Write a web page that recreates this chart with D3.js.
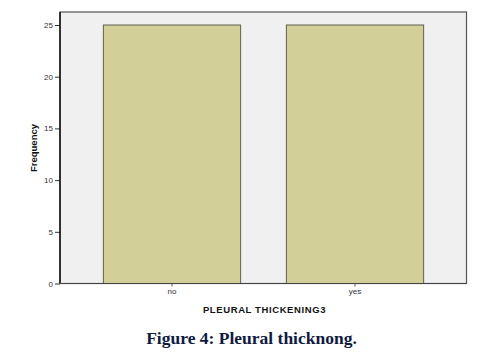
<!DOCTYPE html>
<html>
<head>
<script src="https://d3js.org/d3.v7.min.js"></script>
<style>
  body { margin: 0; background: #fff; }
  .tick text { font-family: "Liberation Sans", Arial, sans-serif; font-size: 8px; fill: #333; }
  .label { font-family: "Liberation Sans", Arial, sans-serif; font-weight: bold; font-size: 9.5px; fill: #111; }
  .caption { font-family: "Liberation Serif", serif; font-weight: bold; font-size: 17.5px; fill: #0f1a40; }
</style>
</head>
<body>
<svg id="chart" width="482" height="355"></svg>
<script>
  const categories = ["no", "yes"];
  const counts = [25, 25];
  const yTicks = [0, 5, 10, 15, 20, 25];

  const frame = { left: 60, top: 12, right: 466.5, bottom: 283.5 };
  const svg = d3.select("#chart");

  const x = d3.scaleBand().domain(categories).range([80.5, 446.5]).paddingInner(0.25).paddingOuter(0.125);
  const y = d3.scaleLinear().domain([0, 25]).range([frame.bottom, 25]);

  // plot background
  svg.append("rect")
    .attr("x", frame.left).attr("y", frame.top)
    .attr("width", frame.right - frame.left).attr("height", frame.bottom - frame.top)
    .attr("fill", "#f0f0f0").attr("stroke", "#555").attr("stroke-width", 1.2);

  svg.selectAll(".bar")
    .data(counts)
    .enter()
    .append("rect")
    .attr("class", "bar")
    .attr("x", (d, i) => x(categories[i]))
    .attr("y", d => y(d))
    .attr("width", x.bandwidth())
    .attr("height", d => y(0) - y(d))
    .attr("fill", "#d3cf98")
    .attr("stroke", "#5f6050")
    .attr("stroke-width", 1);

  const yAxis = svg.append("g")
    .attr("transform", `translate(${frame.left},0)`)
    .call(d3.axisLeft(y).tickValues(yTicks).tickSize(5).tickPadding(2).tickSizeOuter(0));
  yAxis.select(".domain").remove();
  yAxis.selectAll(".tick line").attr("stroke", "#333");

  svg.append("line")
    .attr("x1", frame.left).attr("x2", frame.left)
    .attr("y1", frame.top).attr("y2", frame.bottom)
    .attr("stroke", "#111").attr("stroke-width", 1.5);

  const xAxis = svg.append("g")
    .attr("transform", `translate(0,${frame.bottom})`)
    .call(d3.axisBottom(x).tickSize(3).tickPadding(2).tickSizeOuter(0));
  xAxis.select(".domain").remove();
  xAxis.selectAll(".tick line").attr("stroke", "#555");

  svg.append("line")
    .attr("x1", frame.left).attr("x2", frame.right)
    .attr("y1", frame.bottom).attr("y2", frame.bottom)
    .attr("stroke", "#444").attr("stroke-width", 1.2);

  svg.append("text")
    .attr("class", "label")
    .attr("text-anchor", "middle")
    .attr("transform", "translate(37,148) rotate(-90)")
    .text("Frequency");

  svg.append("text")
    .attr("class", "label")
    .attr("text-anchor", "middle")
    .attr("letter-spacing", "0.6px")
    .attr("x", 264.5).attr("y", 313)
    .text("PLEURAL THICKENING3");

  svg.append("text")
    .attr("class", "caption")
    .attr("text-anchor", "middle")
    .attr("x", 251.5).attr("y", 344)
    .text("Figure 4: Pleural thicknong.");
</script>
</body>
</html>
